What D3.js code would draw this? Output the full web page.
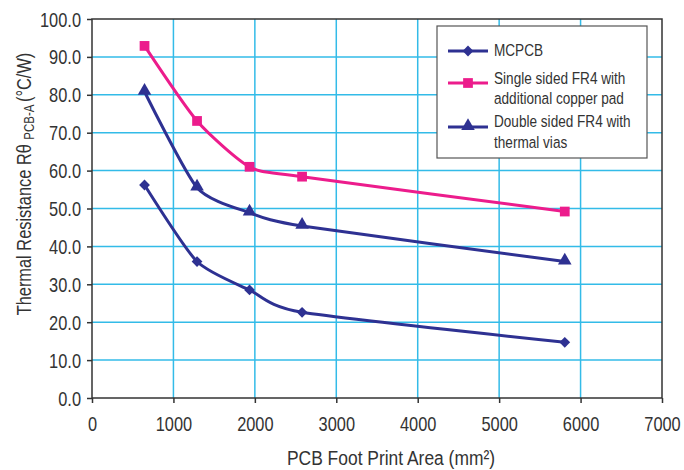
<!DOCTYPE html>
<html>
<head>
<meta charset="utf-8">
<script src="https://cdn.jsdelivr.net/npm/d3@7"></script>
<style>
  html, body { margin: 0; padding: 0; background: #fff; }
  svg { display: block; }
  text { font-family: "Liberation Sans", Arial, sans-serif; fill: #333; }
</style>
</head>
<body>
<svg id="chart" width="684" height="470"></svg>
<script>
// ---- data ----
const areas = [645, 1290, 1935, 2580, 5806];
const mcpcb = [56.2, 36.0, 28.5, 22.6, 14.7];
const singleFR4 = [92.9, 73.1, 61.0, 58.4, 49.2];
const doubleFR4 = [80.8, 55.5, 48.9, 45.4, 36.0];
const xTicks = [0, 1000, 2000, 3000, 4000, 5000, 6000, 7000];
const yTicks = [0, 10, 20, 30, 40, 50, 60, 70, 80, 90, 100];
const seriesNames = ["MCPCB", ["Single sided FR4 with", "additional copper pad"], ["Double sided FR4 with", "thermal vias"]];

const navy = "#2e3192", pink = "#ec1c8c", grid = "#33bbe8", axisCol = "#333";
const NARROW = 0.82;

const svg = d3.select("#chart");
const m = { left: 92, right: 662, top: 19, bottom: 398 };
const x = d3.scaleLinear().domain([0, 7000]).range([m.left, m.right]);
const y = d3.scaleLinear().domain([0, 100]).range([m.bottom, m.top]);

// gridlines
svg.append("g").selectAll("line").data(yTicks.slice(1, -1)).join("line")
  .attr("x1", m.left).attr("x2", m.right)
  .attr("y1", d => y(d)).attr("y2", d => y(d))
  .attr("stroke", grid).attr("stroke-width", 1.5);
svg.append("g").selectAll("line").data(xTicks.slice(1, -1)).join("line")
  .attr("y1", m.top).attr("y2", m.bottom)
  .attr("x1", d => x(d)).attr("x2", d => x(d))
  .attr("stroke", grid).attr("stroke-width", 1.5);

// frame
svg.append("rect").attr("x", m.left).attr("y", m.top)
  .attr("width", m.right - m.left).attr("height", m.bottom - m.top)
  .attr("fill", "none").attr("stroke", axisCol).attr("stroke-width", 1.5);

// axes
const xAxis = svg.append("g").attr("transform", `translate(0,${m.bottom})`)
  .call(d3.axisBottom(x).tickValues(xTicks).tickSize(5).tickFormat(d3.format("d")));
const yAxis = svg.append("g").attr("transform", `translate(${m.left},0)`)
  .call(d3.axisLeft(y).tickValues(yTicks).tickSize(5).tickFormat(d3.format(".1f")));
[xAxis, yAxis].forEach(a => {
  a.select(".domain").remove();
  a.selectAll(".tick line").attr("stroke", axisCol).attr("stroke-width", 1.5);
  a.selectAll(".tick text").attr("font-size", 20).attr("fill", "#333")
    .attr("font-family", '"Liberation Sans", Arial, sans-serif');
});
xAxis.selectAll(".tick text").attr("x", 0).attr("y", 0).attr("dy", 0)
  .attr("transform", `translate(0,33) scale(${NARROW},1)`);
yAxis.selectAll(".tick text").attr("x", 0).attr("dy", "0.35em")
  .attr("transform", `translate(-11,0) scale(${NARROW},1)`);

// axis titles
svg.append("text").attr("transform", "translate(391,465) scale(0.83,1)")
  .attr("text-anchor", "middle").attr("font-size", 21).text("PCB Foot Print Area (mm²)");
const yt = svg.append("text").attr("transform", `translate(31,184) rotate(-90) scale(${NARROW},1)`)
  .attr("text-anchor", "middle").attr("font-size", 20);
yt.append("tspan").text("Thermal Resistance Rθ ");
yt.append("tspan").attr("font-size", 14).attr("dy", 3).text(" PCB-A ");
yt.append("tspan").attr("dy", -3).text(" (°C/W)");

// lines
const line = d3.line().x(d => x(d[0])).y(d => y(d[1])).curve(d3.curveCardinal.tension(0.35));
const series = [
  { vals: mcpcb, color: navy, sym: "diamond" },
  { vals: singleFR4, color: pink, sym: "square" },
  { vals: doubleFR4, color: navy, sym: "triangle" }
];
function marker(g, sym, color) {
  if (sym === "diamond") {
    g.append("path").attr("d", d3.symbol(d3.symbolSquare, 58)()).attr("transform", "rotate(45)").attr("fill", color);
  } else if (sym === "square") {
    g.append("path").attr("d", d3.symbol(d3.symbolSquare, 95)()).attr("fill", color);
  } else {
    g.append("path").attr("d", d3.symbol(d3.symbolTriangle, 80)()).attr("transform", "translate(0,-1)").attr("fill", color);
  }
}
series.forEach(s => {
  const pts = areas.map((a, i) => [a, s.vals[i]]);
  svg.append("path").datum(pts).attr("d", line)
    .attr("fill", "none").attr("stroke", s.color).attr("stroke-width", 3);
  pts.forEach(p => {
    const g = svg.append("g").attr("transform", `translate(${x(p[0])},${y(p[1])})`);
    marker(g, s.sym, s.color);
  });
});

// legend
const lg = svg.append("g");
lg.append("rect").attr("x", 437).attr("y", 26).attr("width", 210).attr("height", 132)
  .attr("fill", "#fff").attr("stroke", "#555").attr("stroke-width", 1.2);
const rows = [{ y: 51, ty: [56] }, { y: 83, ty: [84, 104] }, { y: 127, ty: [127, 148] }];
series.forEach((s, i) => {
  const r = rows[i];
  lg.append("line").attr("x1", 448).attr("x2", 488).attr("y1", r.y).attr("y2", r.y)
    .attr("stroke", s.color).attr("stroke-width", 3);
  const g = lg.append("g").attr("transform", `translate(468,${r.y})`);
  marker(g, s.sym, s.color);
  const names = Array.isArray(seriesNames[i]) ? seriesNames[i] : [seriesNames[i]];
  names.forEach((t, j) => {
    lg.append("text").attr("transform", `translate(494,${r.ty[j]}) scale(0.8,1)`)
      .attr("font-size", 17).text(t);
  });
});
</script>
</body>
</html>
